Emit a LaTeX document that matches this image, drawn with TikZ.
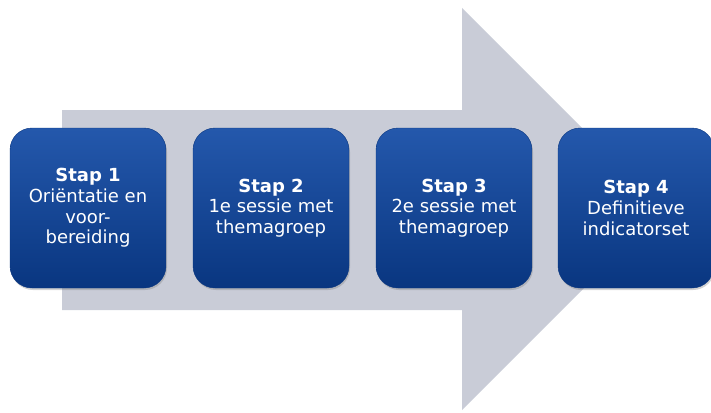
\documentclass[tikz,border=0pt]{standalone}
\usepackage{fontspec}
\setmainfont{DejaVu Sans}
\usepackage{xcolor}
\usepackage{tikz}
\usetikzlibrary{shadows}
\definecolor{arrowgrey}{RGB}{201,204,215}
\definecolor{boxtop}{RGB}{36,88,172}
\definecolor{boxmid}{RGB}{10,62,145}
\definecolor{boxbot}{RGB}{9,54,128}
\tikzstyle{stapbox} = [rectangle, rounded corners=22pt, minimum width=156pt, minimum height=160pt, inner sep=0pt, top color=boxtop, middle color=boxmid, bottom color=boxbot, draw=boxbot, text=white, align=center, font=\fontsize{18}{20.7}\selectfont, drop shadow={shadow xshift=1pt, shadow yshift=-2pt, opacity=0.35}]

\begin{document}
\begin{tikzpicture}[x=1pt, y=-1pt]
        \useasboundingbox (0,0) rectangle (711,412);
        \fill[arrowgrey] (62,110) -- (462,110) -- (462,8) -- (663,209) -- (462,410) -- (462,310) -- (62,310) -- cycle;
        \node[stapbox] (stap1) at (88,208) {\textbf{Stap 1}\\Oriëntatie en\\voor-\\bereiding};
        \node[stapbox] (stap2) at (271,208) {\textbf{Stap 2}\\1e sessie met\\themagroep};
        \node[stapbox] (stap3) at (454,208) {\textbf{Stap 3}\\2e sessie met\\themagroep};
        \node[stapbox] (stap4) at (636,208) {\textbf{Stap 4}\\Definitieve\\indicatorset};
    \end{tikzpicture}
\end{document}
